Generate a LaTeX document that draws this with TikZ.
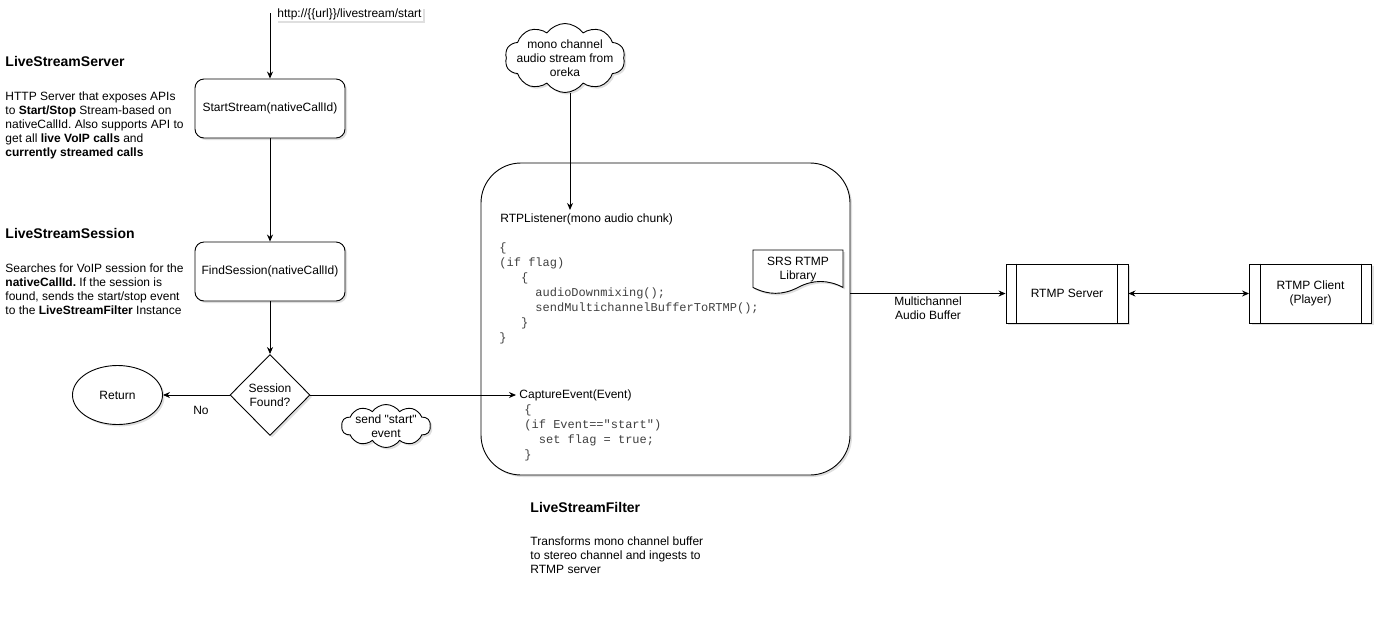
\documentclass[tikz,border=0pt]{standalone}
\usepackage{fontspec}
\setmainfont{Liberation Sans}[Ligatures=TeXOff]
\setmonofont{Liberation Mono}[Ligatures=TeXOff]
\frenchspacing
\usetikzlibrary{shapes.geometric,shapes.symbols,shadows,arrows.meta}
\begin{document}
\begin{tikzpicture}[x=1pt,y=-1pt,line width=0.9pt,>={Stealth[length=7pt,width=6pt]},
 every node/.style={font=\fontsize{12}{14}\selectfont},
 softshadow/.style={drop shadow={opacity=0.25,shadow xshift=2pt,shadow yshift=-2pt}},
 callbox/.style={draw,rounded corners=9pt,fill=white,softshadow,minimum width=150pt,minimum height=59pt},
 proc/.style={draw,fill=white,softshadow,minimum width=122pt,minimum height=59pt,align=center},
 txt/.style={anchor=north west,inner sep=0pt,align=left},
 head/.style={anchor=base west,inner sep=0pt,font=\fontsize{14}{17}\selectfont\bfseries},
 codetxt/.style={anchor=north west,inner sep=0pt,align=left,text=black!75,font=\fontsize{12}{15}\selectfont\ttfamily},
 puff/.style={cloud,cloud puffs=10,cloud puff arc=110,cloud ignores aspect,draw,fill=white,softshadow,inner sep=0pt}]
 \useasboundingbox (0,0) rectangle (1387,625);
 % cột trái
 \coordinate (src) at (270,13);
 \node[fill=white,softshadow,anchor=west,inner sep=1pt] (url) at (276,14) {http://\{\{url\}\}/livestream/start};
 \node[callbox] (start) at (270,108.5) {StartStream(nativeCallId)};
 \node[callbox] (find) at (270,271.5) {FindSession(nativeCallId)};
 \node[diamond,draw,fill=white,softshadow,aspect=1,inner sep=0pt,minimum width=80pt,minimum height=81pt,align=center] (found) at (270,395) {Session\\Found?};
 \node[ellipse,draw,fill=white,softshadow,minimum width=90pt,minimum height=59pt] (ret) at (117.5,395) {Return};
 \node (no) at (201,410) {No};
 \node[puff,minimum width=89pt,minimum height=43pt,label={[align=center]center:send "start"\\event}] (send) at (386,426) {};
 \node[head] (hsrv) at (5,66) {LiveStreamServer};
 \node[txt] (psrv) at (5,91.4) {HTTP Server that exposes APIs\\to \textbf{Start/Stop} Stream-based on\\nativeCallId. Also supports API to\\get all \textbf{live VoIP calls} and\\\textbf{currently streamed calls}};
 \node[head] (hses) at (5,238) {LiveStreamSession};
 \node[txt] (pses) at (5,263) {Searches for VoIP session for the\\\textbf{nativeCallId.} If the session is\\found, sends the start/stop event\\to the \textbf{LiveStreamFilter} Instance};
 % khối filter
 \node[puff,minimum width=120pt,minimum height=69pt,label={[align=center]center:mono channel\\audio stream from\\oreka}] (mono) at (565,58) {};
 \node[draw,rounded corners=40pt,fill=white,softshadow,minimum width=369pt,minimum height=312pt] (filt) at (665.5,319) {};
 \node[anchor=west,inner sep=3pt] (rtp) at (497,219) {RTPListener(mono audio chunk)};
 \node[codetxt] (blk1) at (499,242) {\{\\(if flag)\\\phantom{000}\{\\\phantom{00000}audioDownmixing();\\\phantom{00000}sendMultichannelBufferToRTMP();\\\phantom{000}\}\\\}};
 \node[anchor=west,inner sep=3pt] (cap) at (516,395) {CaptureEvent(Event)};
 \node[codetxt] (blk2) at (524,404) {\{\\(if Event=="start")\\\phantom{00}set flag = true;\\\}};
 \draw[fill=white,softshadow] (753,250) -- (843,250) -- (843,287.4)
 .. controls (828,279.5) and (813,279.5) .. (798,287.4)
 .. controls (783,295.3) and (768,295.3) .. (753,287.4) -- cycle;
 \node[align=center] (srs) at (798,270) {SRS RTMP\\Library};
 \node[head] (hfil) at (530,512) {LiveStreamFilter};
 \node[txt] (pfil) at (530,536.5) {Transforms mono channel buffer\\to stereo channel and ingests to\\RTMP server};
 % cột phải
 \node[proc] (srv) at (1067,293.5) {RTMP Server};
 \node[proc] (cli) at (1310.5,293.5) {RTMP Client\\(Player)};
 \foreach \n in {srv,cli}
 \draw ([xshift=11pt]\n.north west)--([xshift=11pt]\n.south west)
 ([xshift=-11pt]\n.north east)--([xshift=-11pt]\n.south east);
 % mũi tên
 \foreach \a/\b in {src/start,start/find,find/found,found/ret,found.east/cap.west}
 \draw[->] (\a)--(\b);
 \draw[->] ([xshift=5pt]mono.south) -- ([xshift=5pt]mono.south |- rtp.north);
 \draw[->] (filt.east |- srv.west) -- (srv.west)
 node[midway,below=3pt,inner sep=0pt,align=center] (buf) {Multichannel\\Audio Buffer};
 \draw[<->] (srv) -- (cli);
\end{tikzpicture}
\end{document}
